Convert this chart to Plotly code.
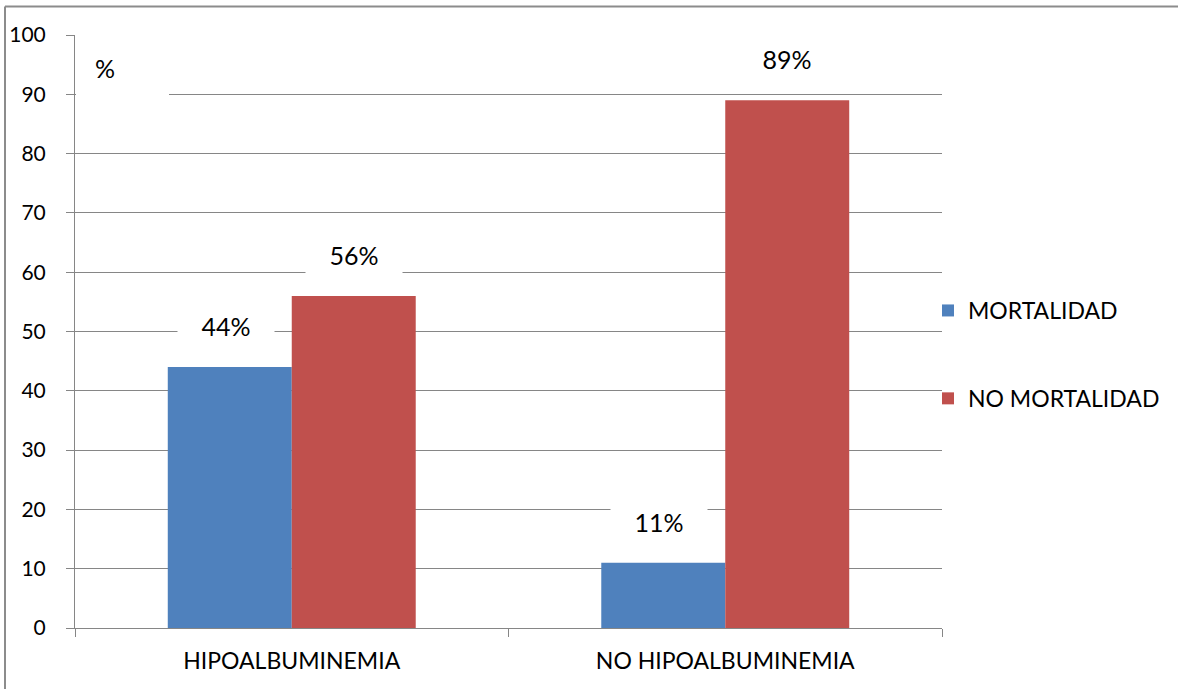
import plotly.graph_objects as go

categories = ["HIPOALBUMINEMIA", "NO HIPOALBUMINEMIA"]
mortalidad = [44, 11]
no_mortalidad = [56, 89]
series_names = ["MORTALIDAD", "NO MORTALIDAD"]
colors = ["#4F81BD", "#C0504D"]
y_ticks = [0, 10, 20, 30, 40, 50, 60, 70, 80, 90, 100]

FONT = "Lato, Carlito, Calibri, sans-serif"
W, H = 1178, 689
ML, MR, MT, MB = 75, W - 942, 35, H - 628
PW, PH = W - ML - MR, H - MT - MB


def px(x):
    return (x - ML) / PW


def py(y):
    return (H - MB - y) / PH


fig = go.Figure()
for name, vals, col in zip(series_names, [mortalidad, no_mortalidad], colors):
    fig.add_trace(go.Bar(
        x=categories, y=vals, name=name, marker_color=col,
        marker_line_width=0, legendgroup=name, offsetgroup=name,
    ))

# value labels with white boxes
annotations = []
for i, (name, vals) in enumerate(zip(series_names, [mortalidad, no_mortalidad])):
    for cat, v in zip(categories, vals):
        annotations.append(dict(
            x=cat, y=v, xref="x", yref="y", text=f"{v}%", showarrow=False,
            xshift=(-66 if i == 0 else 62), yshift=41,
            bgcolor="white", width=94, height=50,
            font=dict(family=FONT, size=25, color="black"),
        ))

# axis title "%"
annotations.append(dict(
    x=px(105), y=py(68), xref="paper", yref="paper",
    xanchor="center", yanchor="middle", text="%", showarrow=False,
    font=dict(family=FONT, size=25, color="black"),
))

border = dict(color="#8C8C8C", width=2)
fig.update_layout(
    width=W, height=H,
    margin=dict(l=ML, r=MR, t=MT, b=MB, autoexpand=False),
    paper_bgcolor="white", plot_bgcolor="white",
    barmode="group", bargap=0.428, bargroupgap=0,
    font=dict(family=FONT, size=20, color="black"),
    showlegend=True,
    legend=dict(
        x=px(928), y=py(289), xanchor="left", yanchor="top",
        tracegroupgap=55, font=dict(family=FONT, size=23, color="black"),
        itemwidth=30, bgcolor="rgba(0,0,0,0)",
    ),
    annotations=annotations,
    shapes=[
        dict(type="line", xref="paper", yref="paper",
             x0=px(5), x1=px(W), y0=py(6.5), y1=py(6.5),
             line=border, layer="below"),
        dict(type="line", xref="paper", yref="paper",
             x0=px(5), x1=px(5), y0=py(6.5), y1=py(H),
             line=border, layer="below"),
        dict(
            type="rect", xref="paper", yref="paper",
            x0=px(76), x1=px(169), y0=py(98), y1=py(40),
            line=dict(width=0), fillcolor="white", layer="above",
        ),
    ],
)

fig.update_yaxes(
    range=[0, 100], tickvals=y_ticks, ticks="outside", ticklen=8,
    tickcolor="#868686", showgrid=True, gridcolor="#868686", gridwidth=1,
    showline=True, linecolor="#868686", linewidth=1, zeroline=False,
    ticklabelstandoff=16, automargin=False,
    tickfont=dict(family=FONT, size=21, color="black"),
)
fig.update_xaxes(
    tickson="boundaries", ticks="outside", ticklen=8, tickcolor="#868686",
    showline=True, linecolor="#868686", linewidth=1, showgrid=False,
    ticklabelstandoff=12, automargin=False,
    tickfont=dict(family=FONT, size=23, color="black"),
)

fig.write_html("out.html", config={"displayModeBar": False},
               post_script="document.body.style.margin='0';")
